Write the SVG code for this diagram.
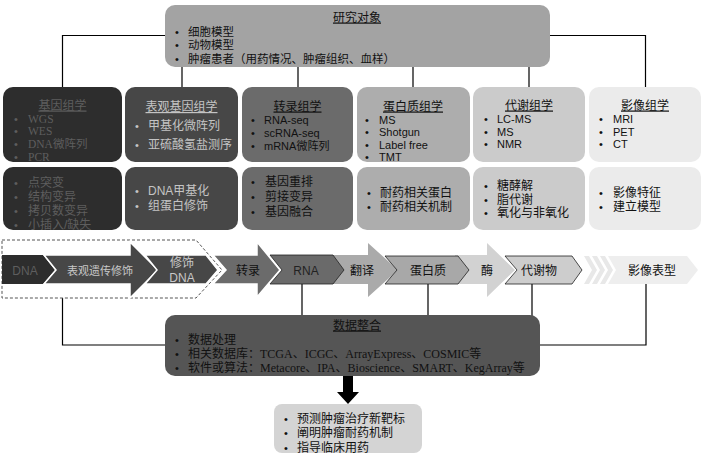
<svg xmlns="http://www.w3.org/2000/svg" width="707" height="460" viewBox="0 0 707 460">
<style>
text{font-family:"Liberation Sans","Noto Sans CJK SC",sans-serif;font-size:12px;fill:#111}
.lat{font-size:11px}
.ser{font-family:"Liberation Serif","Noto Sans CJK SC",serif}
.d1 .ser{font-size:11.5px}
.b{font-family:"Liberation Sans",sans-serif;font-size:11px}
.t{text-anchor:middle;text-decoration:underline}
.c{text-anchor:middle}
.conn{fill:none;stroke:#000;stroke-width:1.2}
.chev{stroke:#fff;stroke-width:1.5}
.bx{stroke:#222;stroke-width:0.8}
.d1 text{fill:#5e5e5e}
.d2 text{fill:#c4c4c4}
</style>
<rect width="707" height="460" fill="#fff"/>
<g id="connectors">
<path class="conn" d="M165,35.5H62.5V87M550,35.5H645.5V87M182,67V87M298,67V87M413,67V87M529,67V87"/>
<path class="conn" d="M62.5,298V345H165M302,284V315M428,284V315M532,284V316M646,284V345H540"/>
<polygon points="343,376 353,376 353,392 359,392 348,404 337,392 343,392" fill="#000"/>
</g>
<g id="research">
<rect x="165" y="5" width="385" height="62" rx="10" fill="#a3a3a3"/>
<text class="t" x="357" y="21.5">研究对象</text>
<text class="b" x="175" y="35.5">•</text><text x="188" y="35.5" style="font-size:11.5px">细胞模型</text>
<text class="b" x="175" y="49">•</text><text x="188" y="49" style="font-size:11.5px">动物模型</text>
<text class="b" x="175" y="62.5">•</text><text x="188" y="62.5" style="font-size:11.5px">肿瘤患者（用药情况、肿瘤组织、血样）</text>
</g>
<g id="genomics" class="d1">
<rect x="3" y="87" width="119" height="75" rx="10" fill="#2d2d2d"/>
<text class="t" x="62.5" y="109.5">基因组学</text>
<text class="b" x="14" y="122.5">•</text><text class="ser" x="28" y="122.5">WGS</text>
<text class="b" x="14" y="135.2">•</text><text class="ser" x="28" y="135.2">WES</text>
<text class="b" x="14" y="147.9">•</text><text class="ser" x="28" y="147.9">DNA微阵列</text>
<text class="b" x="14" y="160.6">•</text><text class="ser" x="28" y="160.6">PCR</text>
</g>
<g id="genomics2" class="d1">
<rect x="3" y="167" width="119" height="63" rx="10" fill="#2d2d2d"/>
<text class="b" x="14" y="186.5">•</text><text x="28" y="186.5">点突变</text>
<text class="b" x="14" y="200.5">•</text><text x="28" y="200.5">结构变异</text>
<text class="b" x="14" y="214.5">•</text><text x="28" y="214.5">拷贝数变异</text>
<text class="b" x="14" y="228.5">•</text><text x="28" y="228.5">小插入/缺失</text>
</g>
<g id="epigenomics" class="d2">
<rect x="125" y="87" width="113" height="75" rx="10" fill="#474747"/>
<text class="t" x="181.5" y="111">表观基因组学</text>
<text class="b" x="135" y="129.5">•</text><text x="148" y="129.5">甲基化微阵列</text>
<text class="b" x="135" y="148.5">•</text><text x="148" y="148.5">亚硫酸氢盐测序</text>
</g>
<g id="epigenomics2" class="d2">
<rect x="125" y="167" width="113" height="63" rx="10" fill="#474747"/>
<text class="b" x="135" y="194.5">•</text><text x="148" y="194.5">DNA甲基化</text>
<text class="b" x="135" y="209.5">•</text><text x="148" y="209.5">组蛋白修饰</text>
</g>
<g id="transcriptomics">
<rect x="242" y="87" width="111" height="75" rx="10" fill="#6b6b6b"/>
<text class="t" x="297.5" y="110.5">转录组学</text>
<text class="b" x="251" y="123.5">•</text><text class="lat" x="264" y="123.5">RNA-seq</text>
<text class="b" x="251" y="136.5">•</text><text class="lat" x="264" y="136.5">scRNA-seq</text>
<text class="b" x="251" y="149.5">•</text><text class="lat" x="264" y="149.5">mRNA微阵列</text>
</g>
<g id="transcriptomics2">
<rect x="242" y="167" width="111" height="63" rx="10" fill="#6b6b6b"/>
<text class="b" x="251" y="185.5">•</text><text x="265" y="185.5">基因重排</text>
<text class="b" x="251" y="201">•</text><text x="265" y="201">剪接变异</text>
<text class="b" x="251" y="215.5">•</text><text x="265" y="215.5">基因融合</text>
</g>
<g id="proteomics">
<rect x="357" y="87" width="113" height="75" rx="10" fill="#adadad"/>
<text class="t" x="413" y="110.5">蛋白质组学</text>
<text class="b" x="365" y="123.5">•</text><text class="lat" x="379" y="123.5">MS</text>
<text class="b" x="365" y="136">•</text><text class="lat" x="379" y="136">Shotgun</text>
<text class="b" x="365" y="148.5">•</text><text class="lat" x="379" y="148.5">Label free</text>
<text class="b" x="365" y="161">•</text><text class="lat" x="379" y="161">TMT</text>
</g>
<g id="proteomics2">
<rect x="357" y="167" width="113" height="63" rx="10" fill="#adadad"/>
<text class="b" x="367" y="196.5">•</text><text x="380" y="196.5">耐药相关蛋白</text>
<text class="b" x="367" y="210.5">•</text><text x="380" y="210.5">耐药相关机制</text>
</g>
<g id="metabolomics">
<rect x="473" y="87" width="112" height="75" rx="10" fill="#cbcbcb"/>
<text class="t" x="529" y="109.5">代谢组学</text>
<text class="b" x="484" y="122.5">•</text><text class="lat" x="497" y="122.5">LC-MS</text>
<text class="b" x="484" y="135.5">•</text><text class="lat" x="497" y="135.5">MS</text>
<text class="b" x="484" y="148">•</text><text class="lat" x="497" y="148">NMR</text>
</g>
<g id="metabolomics2">
<rect x="473" y="167" width="112" height="63" rx="10" fill="#cbcbcb"/>
<text class="b" x="484" y="190">•</text><text x="497" y="190">糖酵解</text>
<text class="b" x="484" y="203.5">•</text><text x="497" y="203.5">脂代谢</text>
<text class="b" x="484" y="217">•</text><text x="497" y="217">氧化与非氧化</text>
</g>
<g id="imaging">
<rect x="589" y="87" width="112" height="75" rx="10" fill="#ebebeb"/>
<text class="t" x="645" y="109.5">影像组学</text>
<text class="b" x="599" y="122.5">•</text><text class="lat" x="613" y="122.5">MRI</text>
<text class="b" x="599" y="135.5">•</text><text class="lat" x="613" y="135.5">PET</text>
<text class="b" x="599" y="148">•</text><text class="lat" x="613" y="148">CT</text>
</g>
<g id="imaging2">
<rect x="589" y="167" width="112" height="63" rx="10" fill="#ebebeb"/>
<text class="b" x="599" y="196.5">•</text><text x="613" y="196.5">影像特征</text>
<text class="b" x="599" y="210.5">•</text><text x="613" y="210.5">建立模型</text>
</g>
<g id="flow">
<polygon points="2,240 196,240 222,270 196,298 2,298" fill="none" stroke="#555" stroke-width="1" stroke-dasharray="3,2"/>
<polygon points="2,255 43,255 55,270 43,284 2,284" fill="#2d2d2d"/>
<polygon class="chev" points="44,255 130,255 130,242 158,270 130,298 130,284 44,284 56,270" fill="#474747"/>
<polygon class="chev" points="145,255 206,255 218,270 206,284 145,284 157,270" fill="#474747"/>
<polygon class="chev" points="213,255 257,255 257,242 280,270 257,297 257,284 213,284 226,270" fill="#6b6b6b"/>
<polygon points="330,255 368,255 368,243 398,270 368,297 368,284 330,284" fill="#aaaaaa"/>
<polygon class="bx" points="270,255 333,255 344,270 333,284 270,284 282,270" fill="#6a6a6a"/>
<polygon points="455,255 487,255 487,243 515,270 487,297 487,284 455,284" fill="#d2d2d2"/>
<polygon class="bx" points="385,256 458,256 469,270 458,284 385,284 397,270" fill="#a8a8a8"/>
<polygon class="bx" points="505,256 572,256 582,270 572,284 505,284 517,270" fill="#cdcdcd"/>
<polygon points="584,256 589,256 597,270 589,284 584,284 592,270" fill="#e8e8e8"/>
<polygon points="592,256 597,256 605,270 597,284 592,284 600,270" fill="#e8e8e8"/>
<polygon points="600,256 605,256 613,270 605,284 600,284 608,270" fill="#e8e8e8"/>
<polygon points="608,256 687,256 698,270 687,284 608,284 616,270" fill="#eeeeee"/>
<text class="c" x="25" y="274.5" style="fill:#5e5e5e">DNA</text>
<text class="c" x="100" y="274.5" style="fill:#c8c8c8;font-size:11px">表观遗传修饰</text>
<text class="c" x="182" y="267" style="fill:#c8c8c8">修饰</text>
<text class="c" x="182" y="282" style="fill:#c8c8c8">DNA</text>
<text class="c" x="248" y="274.5">转录</text>
<text class="c" x="306" y="274.5" style="fill:#222">RNA</text>
<text class="c" x="362" y="274.5">翻译</text>
<text class="c" x="428" y="274.5">蛋白质</text>
<text class="c" x="487" y="274.5">酶</text>
<text class="c" x="539" y="274.5">代谢物</text>
<text class="c" x="652" y="274.5">影像表型</text>
</g>
<g id="integration">
<rect x="165" y="315" width="375" height="61" rx="10" fill="#555555"/>
<text class="t" x="357" y="329.5">数据整合</text>
<text class="b" x="175" y="343.5">•</text><text class="ser" x="188" y="343.5">数据处理</text>
<text class="b" x="175" y="357.5">•</text><text class="ser" x="188" y="357.5">相关数据库：TCGA、ICGC、ArrayExpress、COSMIC等</text>
<text class="b" x="175" y="371.5">•</text><text class="ser" x="188" y="371.5">软件或算法：Metacore、IPA、Bioscience、SMART、KegArray等</text>
</g>
<g id="outcome">
<rect x="274" y="404" width="148" height="49" rx="8" fill="#d4d4d4"/>
<text class="b" x="284" y="422.5">•</text><text x="297" y="422.5">预测肿瘤治疗新靶标</text>
<text class="b" x="284" y="437">•</text><text x="297" y="437">阐明肿瘤耐药机制</text>
<text class="b" x="284" y="451.5">•</text><text x="297" y="451.5">指导临床用药</text>
</g>
</svg>
